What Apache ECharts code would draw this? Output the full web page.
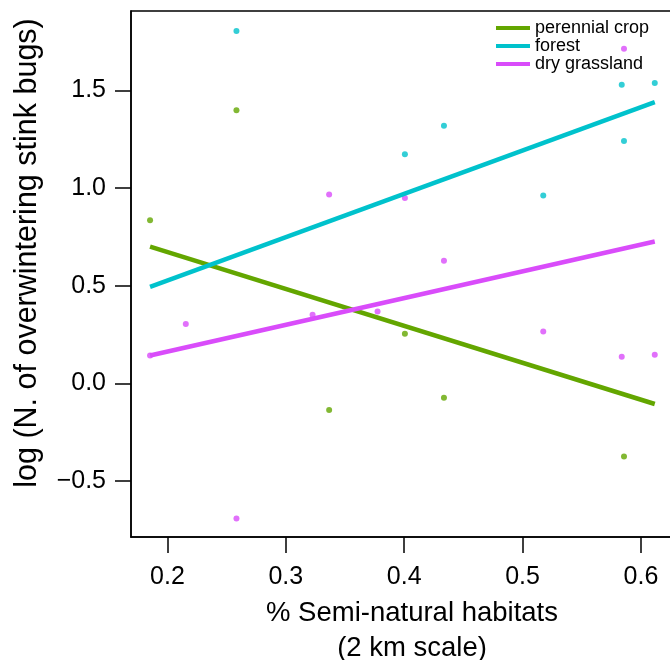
<!DOCTYPE html>
<html>
<head>
<meta charset="utf-8">
<title>stink bugs</title>
<script src="https://cdn.jsdelivr.net/npm/echarts@6/dist/echarts.min.js"></script>
<style>
html,body{margin:0;padding:0;background:#fff;overflow:hidden;}
/* plot box runs a little past the right edge of the picture, as in the original */
#main{width:693px;height:660px;}
</style>
</head>
<body>
<div id="main"></div>
<script>
// % semi-natural habitats (2 km) per site
var siteX = [0.1853, 0.2155, 0.2583, 0.3226, 0.3366, 0.3775, 0.4006, 0.4336, 0.5175, 0.5838, 0.5857, 0.6117];
// log(N) per habitat, null = not visible on the plot
var cropY      = [0.835, null, 1.398, null, -0.137, null, 0.253, -0.074, null, null, -0.375, null];
var forestY    = [null, null, 1.804, null, null, null, 1.173, 1.318, 0.961, 1.528, 1.241, 1.538];
var grasslandY = [0.142, 0.303, -0.692, 0.351, 0.966, 0.367, 0.948, 0.627, 0.265, 0.136, 1.713, 0.146];
// fitted lines, ends at min / max x
var fitX = [0.1853, 0.6117];
var cropFit = [0.700, -0.106];
var forestFit = [0.494, 1.439];
var grasslandFit = [0.142, 0.726];

var habitats = ['perennial crop', 'forest', 'dry grassland'];
var xTicks = [0.2, 0.3, 0.4, 0.5, 0.6];
var yTicks = [-0.5, 0, 0.5, 1.0, 1.5];

var colors = ['#63A600', '#00C2CC', '#D94CFA'];
var font = 'Liberation Sans, Arial, sans-serif';

function pairs(xs, ys){
	var out = [];
	for(var i = 0; i < xs.length; i++){
		if(ys[i] != null){
			out.push([xs[i], ys[i]]);
		}
	}
	return out;
}

function createChart(){
	var myChart = echarts.init(document.getElementById('main'));
	var ys = [cropY, forestY, grasslandY];
	var fits = [cropFit, forestFit, grasslandFit];
	var series = [];
	// points first, lines on top
	for(var i = 0; i < 3; i++){
		series.push({
			name: habitats[i] + ' pts',
			type: 'scatter',
			symbolSize: 6,
			itemStyle: {color: colors[i]},
			data: pairs(siteX, ys[i])
		});
	}
	for(var j = 0; j < 3; j++){
		series.push({
			name: habitats[j],
			type: 'line',
			symbol: 'none',
			color: colors[j],
			lineStyle: {width: 4.5, color: colors[j]},
			data: pairs(fitX, fits[j])
		});
	}
	var option = {
		animation: false,
		textStyle: {fontFamily: font},
		grid: {
			left: 131,
			right: 0,
			top: 11,
			bottom: 123,
			outerBoundsMode: 'none',
			containLabel: false,
			show: true,
			borderColor: '#000',
			borderWidth: 1.5
		},
		legend: {
			data: habitats,
			orient: 'vertical',
			left: 496,
			top: 19,
			padding: 0,
			itemGap: 0,
			icon: 'rect',
			itemWidth: 34,
			itemHeight: 4,
			textStyle: {fontSize: 18, color: '#000', lineHeight: 17.5, fontFamily: font}
		},
		xAxis: {
			type: 'value',
			min: 0.1692,
			max: 0.644,
			splitLine: {show: false},
			axisLine: {onZero: false, lineStyle: {color: '#000', width: 1.5}},
			axisTick: {customValues: xTicks, length: 16, lineStyle: {color: '#000', width: 1.5}},
			axisLabel: {
				customValues: xTicks,
				margin: 28,
				fontSize: 25,
				color: '#000',
				fontFamily: font,
				formatter: function(v){ return v.toFixed(1); }
			},
			name: '% Semi-natural habitats\n(2 km scale)',
			nameLocation: 'middle',
			nameGap: 59,
			nameTextStyle: {fontSize: 27.5, color: '#000', lineHeight: 35, fontFamily: font}
		},
		yAxis: {
			type: 'value',
			min: -0.787,
			max: 1.906,
			splitLine: {show: false},
			axisLine: {onZero: false, lineStyle: {color: '#000', width: 1.5}},
			axisTick: {customValues: yTicks, length: 16, lineStyle: {color: '#000', width: 1.5}},
			axisLabel: {
				customValues: yTicks,
				margin: 25,
				fontSize: 25,
				color: '#000',
				fontFamily: font,
				formatter: function(v){
					var s = Math.abs(v).toFixed(1);
					return v < 0 ? '\u2212' + s : s;
				}
			}
		},
		graphic: [{
			type: 'text',
			x: 28,
			y: 253,
			rotation: Math.PI / 2,
			style: {
				text: 'log (N. of overwintering stink bugs)',
				fontSize: 30.5,
				fontFamily: font,
				fill: '#000',
				align: 'center',
				verticalAlign: 'middle'
			}
		}],
		series: series
	};
	myChart.setOption(option);
}

createChart();
</script>
</body>
</html>
